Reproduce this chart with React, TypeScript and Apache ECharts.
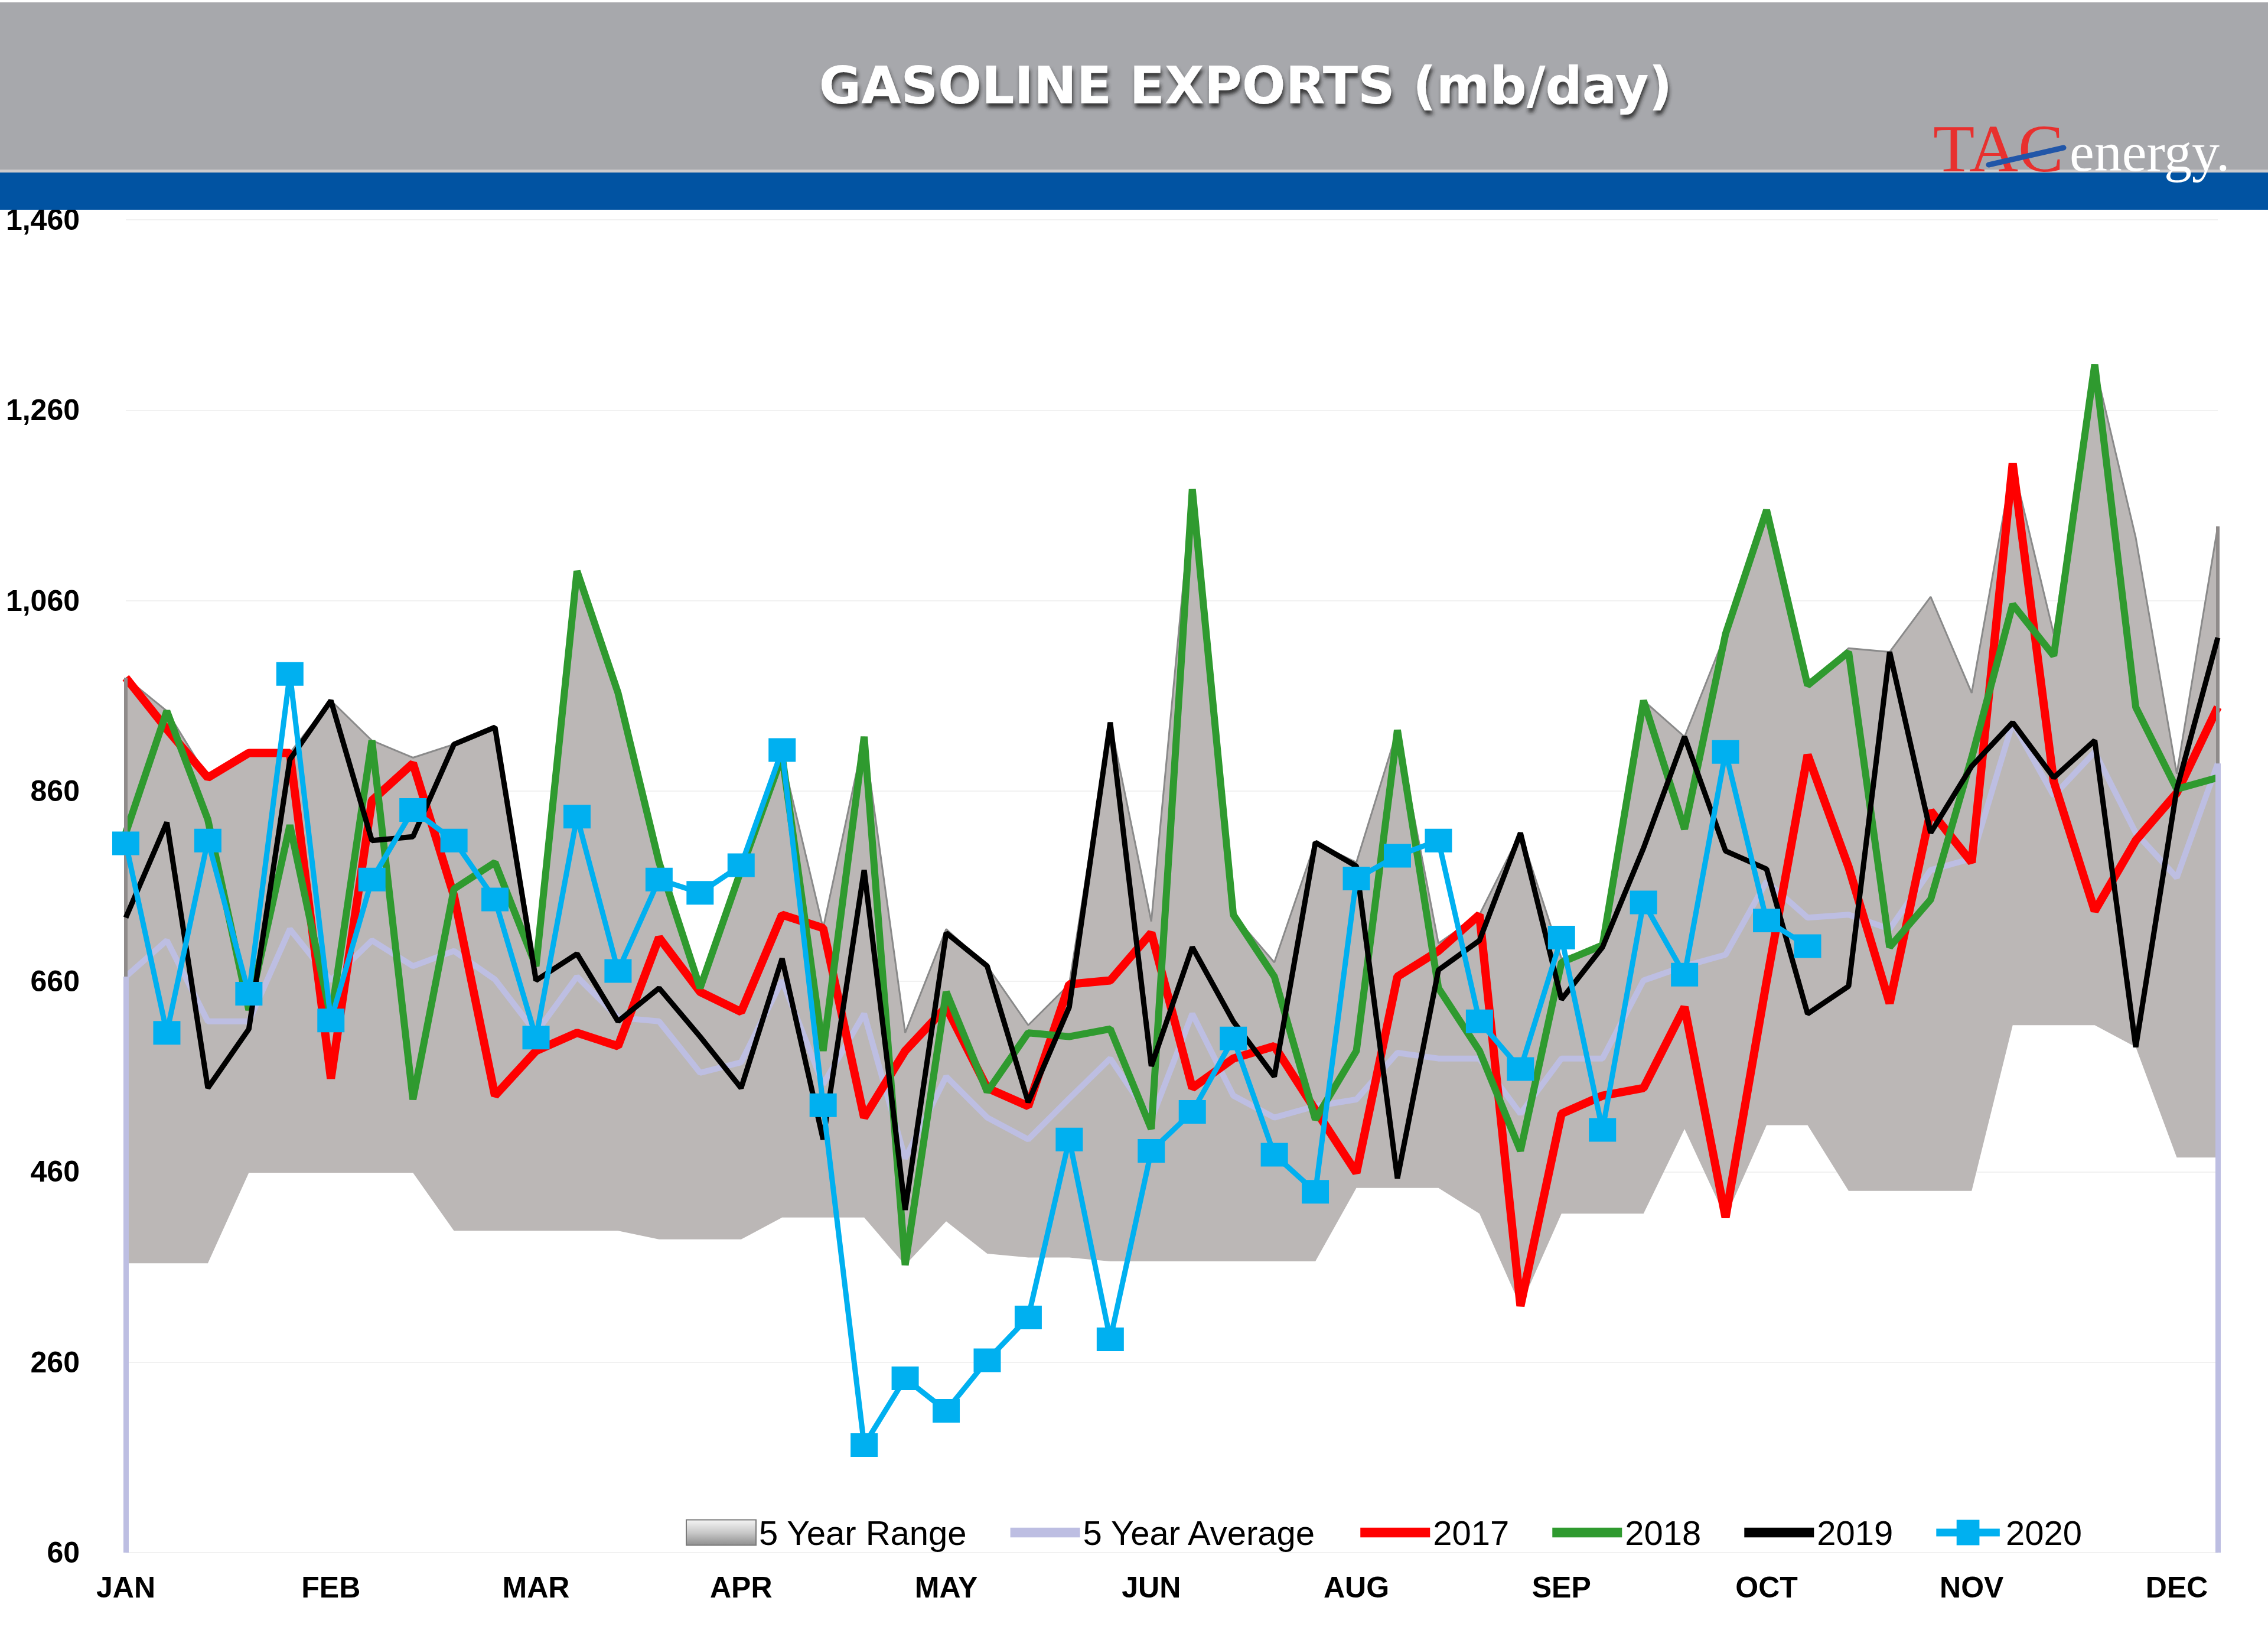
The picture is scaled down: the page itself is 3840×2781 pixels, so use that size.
import React, { useEffect, useRef } from 'react';
import * as echarts from 'echarts';

// ---- data (mb/day), 52 weekly points ----
const weeks = Array.from({ length: 52 }, (_, i) => `W${i + 1}`);
const monthLabels = ['JAN', 'FEB', 'MAR', 'APR', 'MAY', 'JUN', 'AUG', 'SEP', 'OCT', 'NOV', 'DEC'];
const yMin = 60;
const yMax = 1460;
const yStep = 200;

const range5Min = [
  364, 364, 364, 459, 459, 459, 459, 459, 398, 398,
  398, 398, 398, 389, 389, 389, 412, 412, 412, 362,
  408, 374, 370, 370, 366, 366, 366, 366, 366, 366,
  443, 443, 443, 416, 319, 416, 416, 416, 505, 412,
  509, 509, 440, 440, 440, 440, 614, 614, 614, 591,
  475, 475,
];
const range5Max = [
  979, 944, 874, 900, 900, 955, 913, 895, 909, 927,
  676, 1091, 963, 785, 653, 777, 897, 716, 917, 606,
  715, 676, 614, 657, 932, 723, 1177, 730, 680, 806,
  785, 924, 700, 730, 816, 684, 698, 955, 917, 1025,
  1155, 971, 1010, 1006, 1064, 963, 1204, 1025, 1308, 1126,
  878, 1138,
];
const avg5 = [
  665, 703, 618, 618, 715, 661, 703, 676, 692, 662,
  606, 665, 622, 618, 564, 575, 661, 552, 626, 474,
  560, 517, 494, 537, 579, 515, 626, 540, 517, 529,
  536, 585, 579, 579, 521, 579, 579, 661, 676, 688,
  765, 727, 730, 715, 777, 789, 932, 855, 901, 816,
  769, 889,
];
const y2017 = [
  979, 925, 874, 900, 900, 558, 850, 889, 750, 540,
  587, 606, 592, 706, 649, 628, 730, 716, 517, 587,
  633, 548, 529, 657, 661, 711, 548, 579, 592, 525,
  459, 665, 692, 730, 319, 521, 540, 548, 633, 412,
  660, 898, 780, 637, 839, 785, 1204, 870, 734, 808,
  858, 948,
];
const y2018 = [
  816, 944, 830, 630, 824, 622, 913, 536, 757, 785,
  676, 1091, 963, 785, 653, 777, 897, 587, 917, 362,
  649, 544, 606, 602, 610, 505, 1177, 730, 665, 515,
  587, 924, 653, 587, 482, 680, 698, 955, 820, 1025,
  1155, 971, 1006, 696, 746, 895, 1056, 1002, 1308, 948,
  862, 874,
];
const y2019 = [
  727, 827, 548, 610, 893, 955, 808, 812, 909, 927,
  661, 689, 618, 653, 602, 548, 684, 494, 777, 420,
  711, 676, 533, 633, 932, 571, 696, 618, 560, 806,
  781, 453, 672, 703, 816, 641, 696, 800, 917, 797,
  778, 626, 655, 1006, 816, 886, 932, 874, 913, 591,
  862, 1021,
];
const y2020 = [
  805, 606, 808, 647, 983, 619, 767, 840, 808, 746,
  601, 833, 671, 767, 753, 782, 903, 530, 173, 243,
  209, 262, 307, 494, 284, 482, 523, 600, 478, 439,
  768, 792, 808, 618, 568, 706, 504, 743, 667, 901,
  724, 697,
];

const GRAY = '#bbb7b6';
const LAVENDER = '#bdbee2';
const RED = '#ff0000';
const GREEN = '#2f9a2f';
const BLACK = '#000000';
const CYAN = '#00b0f0';
const LINE_ICON = 'path://M0,0H100V14H0Z';
const MARKER_LINE_ICON = 'path://M0,14H100V26H0Z M32,0H68V40H32Z';

export default function App() {
  const ref = useRef<HTMLDivElement>(null);

  useEffect(() => {
    if (!ref.current) return;
    const chart = echarts.init(ref.current, undefined, { renderer: 'svg' });
    const last = weeks.length - 1;

    const option: any = {
      animation: false,
      backgroundColor: '#ffffff',
      grid: { left: 213, right: 85, top: 372, bottom: 153, containLabel: false },
      xAxis: {
        type: 'category',
        data: weeks,
        boundaryGap: false,
        axisLine: {
          show: true,
          lineStyle: { color: '#c4c4c4', width: 4, shadowColor: 'rgba(0,0,0,0.35)', shadowBlur: 8, shadowOffsetY: 4 },
        },
        axisTick: { show: false },
        axisLabel: {
          interval: 4,
          formatter: (_v: string, i: number) => monthLabels[i / 5] ?? '',
          fontFamily: 'Liberation Sans',
          fontWeight: 'bold',
          fontSize: 50,
          color: '#000',
          margin: 34,
        },
        splitLine: { show: false },
      },
      yAxis: {
        type: 'value',
        min: yMin,
        max: yMax,
        interval: yStep,
        axisLine: { show: false },
        axisTick: { show: false },
        axisLabel: {
          formatter: (v: number) => v.toLocaleString('en-US'),
          fontFamily: 'Liberation Sans',
          fontWeight: 'bold',
          fontSize: 50,
          color: '#000',
          margin: 78,
        },
        splitLine: { lineStyle: { color: '#f1f1f1', width: 2 } },
      },
      legend: {
        left: 1156,
        top: 2560,
        itemWidth: 118,
        itemHeight: 43,
        itemGap: 73,
        selectedMode: false,
        textStyle: { fontFamily: 'Liberation Sans', fontSize: 58, color: '#000' },
        data: [
          {
            name: '5 Year Range',
            icon: 'rect',
            itemStyle: {
              color: new echarts.graphic.LinearGradient(0, 0, 0, 1, [
                { offset: 0, color: '#f4f4f4' },
                { offset: 0.5, color: '#c9c9c9' },
                { offset: 1, color: '#8f8f8f' },
              ]),
              borderColor: '#7a7a7a',
              borderWidth: 2,
            },
          },
          { name: '5 Year Average', icon: LINE_ICON, itemStyle: { color: LAVENDER } },
          { name: '2017', icon: LINE_ICON, itemStyle: { color: RED } },
          { name: '2018', icon: LINE_ICON, itemStyle: { color: GREEN } },
          { name: '2019', icon: LINE_ICON, itemStyle: { color: BLACK } },
          { name: '2020', icon: MARKER_LINE_ICON, itemStyle: { color: CYAN } },
        ],
      },
      series: [
        {
          name: 'rangeBase',
          type: 'line',
          data: range5Min,
          stack: 'range',
          symbol: 'none',
          lineStyle: { opacity: 0, width: 0 },
          silent: true,
          z: 1,
        },
        {
          name: '5 Year Range',
          type: 'line',
          data: range5Max.map((v, i) => v - range5Min[i]),
          stack: 'range',
          symbol: 'none',
          itemStyle: { color: GRAY },
          lineStyle: { color: '#8a8a8a', width: 3 },
          areaStyle: { color: GRAY, opacity: 1 },
          silent: true,
          z: 1,
          markLine: {
            silent: true,
            symbol: ['none', 'none'],
            label: { show: false },
            lineStyle: { color: '#8f8b8a', width: 6, type: 'solid' },
            data: [
              [{ coord: [weeks[0], range5Max[0]] }, { coord: [weeks[0], range5Min[0]] }],
              [{ coord: [weeks[last], range5Max[last]] }, { coord: [weeks[last], range5Min[last]] }],
            ],
          },
        },
        {
          name: '5 Year Average',
          type: 'line',
          data: avg5,
          symbol: 'none',
          itemStyle: { color: LAVENDER },
          lineStyle: { color: LAVENDER, width: 10 },
          z: 2,
          markLine: {
            silent: true,
            symbol: ['none', 'none'],
            label: { show: false },
            lineStyle: { color: LAVENDER, width: 9, type: 'solid' },
            data: [
              [{ coord: [weeks[0], avg5[0]] }, { coord: [weeks[0], yMin] }],
              [{ coord: [weeks[last], avg5[last]] }, { coord: [weeks[last], yMin] }],
            ],
          },
        },
        {
          name: '2017',
          type: 'line',
          data: y2017,
          symbol: 'none',
          itemStyle: { color: RED },
          lineStyle: { color: RED, width: 14 },
          z: 3,
        },
        {
          name: '2018',
          type: 'line',
          data: y2018,
          symbol: 'none',
          itemStyle: { color: GREEN },
          lineStyle: { color: GREEN, width: 12 },
          z: 4,
        },
        {
          name: '2019',
          type: 'line',
          data: y2019,
          symbol: 'none',
          itemStyle: { color: BLACK },
          lineStyle: { color: BLACK, width: 9 },
          z: 5,
        },
        {
          name: '2020',
          type: 'line',
          data: y2020,
          symbol: 'rect',
          symbolSize: [46, 40],
          showSymbol: true,
          itemStyle: { color: CYAN },
          lineStyle: { color: CYAN, width: 9 },
          z: 6,
        },
      ],
      graphic: [
        { type: 'rect', z: 100, shape: { x: 0, y: 4, width: 3840, height: 284 }, style: { fill: '#a7a8ac' } },
        { type: 'rect', z: 100, shape: { x: 0, y: 287, width: 3840, height: 5 }, style: { fill: '#cdcbcc' } },
        { type: 'rect', z: 100, shape: { x: 0, y: 292, width: 3840, height: 63 }, style: { fill: '#0153a2' } },
        {
          type: 'text',
          z: 101,
          x: 2109,
          y: 145,
          style: {
            text: 'GASOLINE EXPORTS (mb/day)',
            font: 'bold 87px "DejaVu Sans"',
            fill: '#ffffff',
            align: 'center',
            verticalAlign: 'middle',
            textShadowColor: 'rgba(40,40,40,0.85)',
            textShadowBlur: 6,
            textShadowOffsetX: 2,
            textShadowOffsetY: 7,
          },
        },
        {
          type: 'text',
          z: 101,
          x: 3273,
          y: 251,
          style: {
            text: 'TAC',
            font: '115px "Liberation Serif"',
            fill: '#e8302e',
            align: 'left',
            verticalAlign: 'middle',
          },
        },
        {
          type: 'text',
          z: 101,
          x: 3504,
          y: 257,
          style: {
            text: 'energy.',
            font: '94px "Liberation Serif"',
            fill: '#ffffff',
            align: 'left',
            verticalAlign: 'middle',
          },
        },
        {
          type: 'line',
          z: 102,
          shape: { x1: 3367, y1: 279, x2: 3494, y2: 250 },
          style: { stroke: '#2156a8', lineWidth: 9, lineCap: 'round' },
        },
      ],
    };

    chart.setOption(option);
    return () => chart.dispose();
  }, []);

  return (
    <div
      ref={ref}
      style={{ position: 'fixed', left: 0, top: 0, width: 3840, height: 2781, background: '#ffffff' }}
    />
  );
}
